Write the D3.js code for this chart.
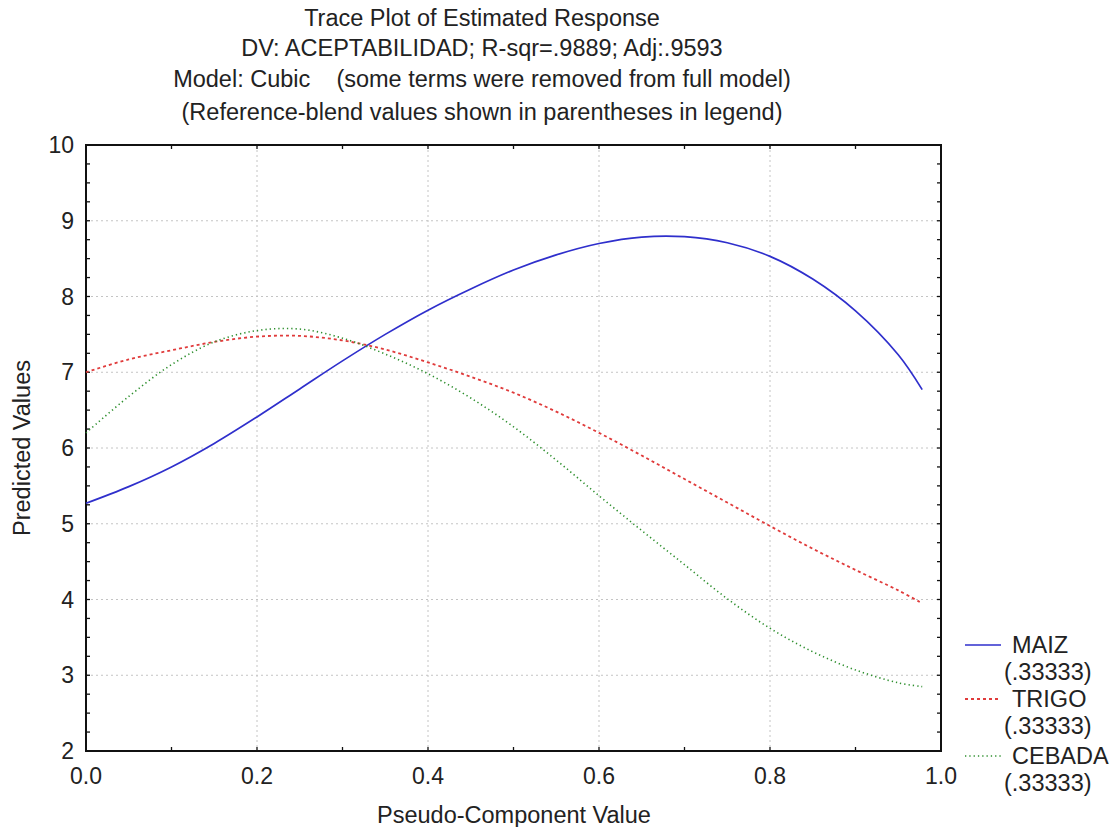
<!DOCTYPE html>
<html>
<head>
<meta charset="utf-8">
<script src="https://cdnjs.cloudflare.com/ajax/libs/d3/7.8.5/d3.min.js"></script>
<style>
  body { margin: 0; background: #fff; }
  svg text { font-family: "Liberation Sans", Arial, sans-serif; fill: #222; white-space: pre; }
</style>
</head>
<body>
<div id="plot"></div>
<script>
// Chart data
const xs = [0, 0.05, 0.1, 0.15, 0.2, 0.25, 0.3, 0.35, 0.4, 0.45, 0.5, 0.55, 0.6, 0.65, 0.7, 0.75, 0.8, 0.85, 0.9, 0.95, 0.978];
const maiz   = [5.27, 5.49, 5.75, 6.06, 6.41, 6.78, 7.15, 7.50, 7.82, 8.10, 8.35, 8.55, 8.70, 8.785, 8.79, 8.71, 8.53, 8.23, 7.81, 7.23, 6.77];
const trigo  = [7.00, 7.17, 7.29, 7.40, 7.47, 7.48, 7.42, 7.30, 7.13, 6.94, 6.73, 6.48, 6.20, 5.90, 5.59, 5.28, 4.97, 4.67, 4.39, 4.12, 3.95];
const cebada = [6.20, 6.68, 7.10, 7.40, 7.55, 7.57, 7.45, 7.24, 6.98, 6.66, 6.28, 5.84, 5.37, 4.91, 4.46, 4.01, 3.62, 3.31, 3.07, 2.90, 2.85];
const seriesNames = ["MAIZ", "TRIGO", "CEBADA"];
const blendLabels = ["(.33333)", "(.33333)", "(.33333)"];
const titleLines = [
  "Trace Plot of Estimated Response",
  "DV: ACEPTABILIDAD; R-sqr=.9889; Adj:.9593",
  "Model: Cubic    (some terms were removed from full model)",
  "(Reference-blend values shown in parentheses in legend)"
];
const xTicks = [0, 0.2, 0.4, 0.6, 0.8, 1.0];
const yTicks = [2, 3, 4, 5, 6, 7, 8, 9, 10];

const W = 1113, H = 827;
const plot = { left: 86, right: 941, top: 145, bottom: 751 };

const svg = d3.select("#plot").append("svg")
    .attr("width", W)
    .attr("height", H);

const x = d3.scaleLinear().domain([0, 1]).range([plot.left, plot.right]);
const y = d3.scaleLinear().domain([2, 10]).range([plot.bottom, plot.top]);

// grid lines
const grid = svg.append("g").attr("stroke", "#c4c4c4").attr("stroke-width", 1).attr("stroke-dasharray", "2,3");
grid.selectAll(".gx").data(xTicks.slice(1, -1)).enter().append("line")
    .attr("x1", d => x(d)).attr("x2", d => x(d))
    .attr("y1", plot.top).attr("y2", plot.bottom);
grid.selectAll(".gy").data(yTicks.slice(1, -1)).enter().append("line")
    .attr("x1", plot.left).attr("x2", plot.right)
    .attr("y1", d => y(d)).attr("y2", d => y(d));

// inward ticks on all four sides
const minorX = d3.range(0, 1.0001, 0.1);
const minorY = d3.range(2, 10.0001, 0.25);
const ticks = svg.append("g").attr("stroke", "#111").attr("stroke-width", 1.3);
[plot.bottom, plot.top].forEach(yy => {
  const dir = yy === plot.bottom ? -1 : 1;
  ticks.selectAll(null).data(minorX).enter().append("line")
      .attr("x1", d => x(d)).attr("x2", d => x(d))
      .attr("y1", yy).attr("y2", yy + dir * 4);
});
[plot.left, plot.right].forEach(xx => {
  const dir = xx === plot.left ? 1 : -1;
  ticks.selectAll(null).data(minorY).enter().append("line")
      .attr("x1", xx).attr("x2", xx + dir * 4)
      .attr("y1", d => y(d)).attr("y2", d => y(d));
});

// frame
svg.append("rect")
    .attr("x", plot.left).attr("y", plot.top)
    .attr("width", plot.right - plot.left).attr("height", plot.bottom - plot.top)
    .attr("fill", "none").attr("stroke", "#111").attr("stroke-width", 2);

// tick labels
svg.selectAll(".xl").data(xTicks).enter().append("text")
    .attr("x", d => x(d)).attr("y", 784)
    .attr("text-anchor", "middle").style("font-size", "23px")
    .text(d => d.toFixed(1));
svg.selectAll(".yl").data(yTicks).enter().append("text")
    .attr("x", 74).attr("y", d => y(d) + 8)
    .attr("text-anchor", "end").style("font-size", "23px")
    .text(d => d);

// axis titles
svg.append("text").attr("x", 514).attr("y", 823)
    .attr("text-anchor", "middle").style("font-size", "23.5px")
    .text("Pseudo-Component Value");
svg.append("text")
    .attr("transform", "translate(30,448) rotate(-90)")
    .attr("text-anchor", "middle").style("font-size", "23.5px")
    .text("Predicted Values");

// title
svg.selectAll(".title").data(titleLines).enter().append("text")
    .attr("x", 482).attr("y", (d, i) => [26, 56, 87, 120][i])
    .attr("text-anchor", "middle").style("font-size", "23.5px")
    .text(d => d);

// lines
const styles = [
  { color: "#2f2fcc", dash: null, width: 1.7 },
  { color: "#e03b3b", dash: "3,3", width: 1.8 },
  { color: "#2e8f2e", dash: "1.3,3", width: 1.6 }
];
const allSeries = [maiz, trigo, cebada];
const line = d3.line()
    .x((d, i) => x(xs[i]))
    .y(d => y(d))
    .curve(d3.curveCatmullRom);
svg.append("g").selectAll("path").data(allSeries).enter().append("path")
    .attr("d", d => line(d))
    .attr("fill", "none")
    .attr("stroke", (d, i) => styles[i].color)
    .attr("stroke-width", (d, i) => styles[i].width)
    .attr("stroke-dasharray", (d, i) => styles[i].dash);

// legend
const legend = svg.append("g");
const legY = [645, 699, 756];
seriesNames.forEach((name, i) => {
  legend.append("line")
      .attr("x1", 965).attr("x2", 1001)
      .attr("y1", legY[i]).attr("y2", legY[i])
      .attr("stroke", styles[i].color)
      .attr("stroke-width", styles[i].width)
      .attr("stroke-dasharray", styles[i].dash);
  legend.append("text").attr("x", 1012).attr("y", legY[i] + 8)
      .style("font-size", "23.5px").text(name);
  legend.append("text").attr("x", 1004).attr("y", legY[i] + 35)
      .style("font-size", "23.5px").text(blendLabels[i]);
});
</script>
</body>
</html>
